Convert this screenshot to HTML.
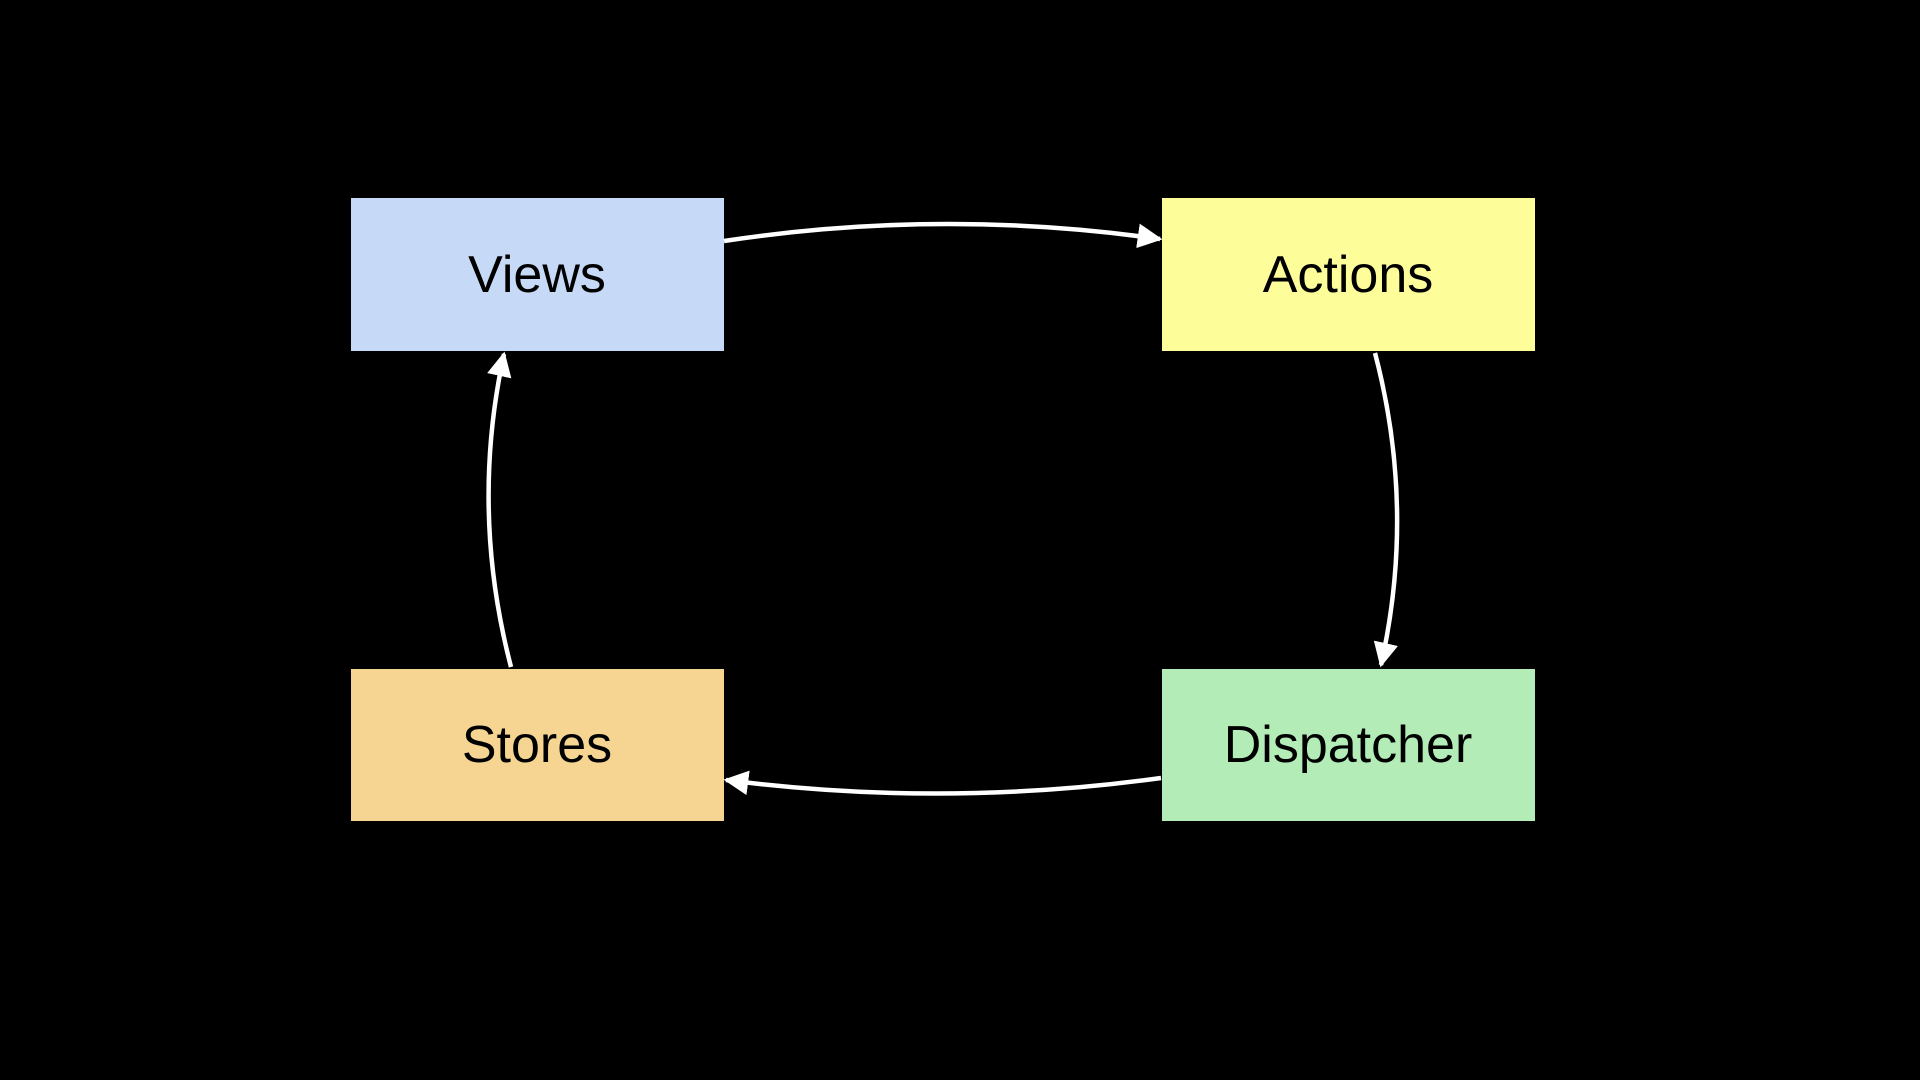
<!DOCTYPE html>
<html><head><meta charset="utf-8"><style>
html,body{margin:0;padding:0;background:#000;width:1920px;height:1080px;overflow:hidden}
</style></head><body>
<svg width="1920" height="1080" xmlns="http://www.w3.org/2000/svg">
<defs>
<marker id="a" viewBox="0 0 10 10" refX="9" refY="5" markerWidth="5.5" markerHeight="5.5" orient="auto" markerUnits="strokeWidth">
<path d="M0,0 L10,5 L0,10 z" fill="#fff"/></marker>
</defs>
<rect x="351" y="198" width="373" height="153" fill="#c6d9f6"/>
<rect x="1162" y="198" width="373" height="153" fill="#fdfd9a"/>
<rect x="351" y="669" width="373" height="152" fill="#f6d593"/>
<rect x="1162" y="669" width="373" height="152" fill="#b3ecb6"/>
<g font-family="Liberation Sans, sans-serif" font-size="52" fill="#000" text-anchor="middle">
<text x="537" y="292">Views</text>
<text x="1348" y="292">Actions</text>
<text x="537" y="762">Stores</text>
<text x="1348" y="762">Dispatcher</text>
</g>
<g fill="none" stroke="#fff" stroke-width="4.5" marker-end="url(#a)">
<path d="M724,241 Q942,208 1160,239"/>
<path d="M1375,353 Q1416,509 1381,665"/>
<path d="M1161,778 Q943,808 726,780"/>
<path d="M511,667 Q470,510 504,354"/>
</g>
</svg>
</body></html>
